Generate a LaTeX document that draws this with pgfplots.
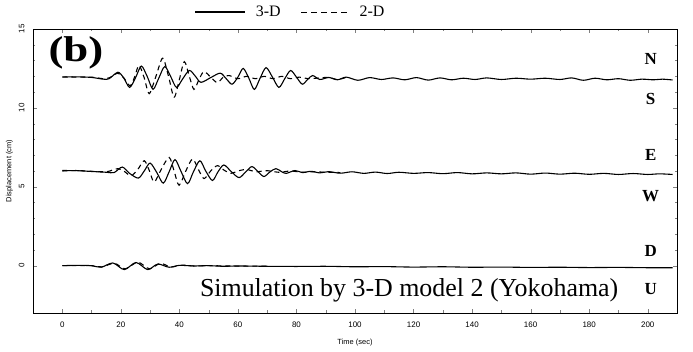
\documentclass[border=0pt]{standalone}
\usepackage{pgfplots}
\pgfplotsset{compat=1.18}
\usepackage{fontspec}
\setmainfont{Liberation Serif}
\newfontfamily\tickfont{Liberation Sans}
\begin{document}
\begin{tikzpicture}
\useasboundingbox (-33bp,-39bp) rectangle (660bp,313bp);
\begin{axis}[
  scale only axis, width=644bp, height=284bp,
  xmin=-10, xmax=210, ymin=-3, ymax=15,
  xtick={0,20,...,200}, ytick={0,5,10,15},
  minor x tick num=1, minor y tick num=4,
  tick align=inside, tick pos=both,
  major tick length=4bp, minor tick length=2.5bp,
  /pgf/number format/assume math mode=true,
  ticklabel style={font=\tickfont\fontsize{8}{9}\selectfont},
  yticklabel style={rotate=90, anchor=south},
  xticklabel shift=5bp, yticklabel shift=5bp,
  xlabel={Time (sec)}, ylabel={Displacement (cm)},
  label style={font=\tickfont\fontsize{7.5}{9}\selectfont},
  xlabel style={yshift=-5bp},
  ylabel style={yshift=-1bp},
  axis line style={line width=0.6pt},
  legend style={at={(0.4,1.06)}, anchor=center, draw=none, fill=none,
    legend columns=2, font=\fontsize{16}{18}\selectfont,
    /tikz/every odd column/.append style={column sep=8bp},
    /tikz/every even column/.append style={column sep=18bp}},
]
% N-S 3-D
\addplot[black, line width=1.1pt, smooth, tension=0.5, legend image code/.code={\draw[black, line width=1.1pt] (0bp,0bp) -- (50bp,0bp);}] coordinates {
(0,11.95) (5,11.97) (10,11.93) (14,11.82) (16,11.85) (19,12.26) (21,11.9) (23,11.3) (25,11.9) (27,12.65) (29,12.0) (31,11.18) (33,11.9) (35,12.62) (37,12.0) (39,11.3) (41,11.8) (43.4,12.37) (45.5,12.0) (47.4,11.62) (51,11.95) (54,12.2) (56,11.85) (58,11.5) (60,11.95) (61.8,12.5) (63.7,11.9) (65.6,11.17) (67.5,11.85) (69.6,12.55) (71.8,11.95) (74,11.3) (76,11.85) (78,12.37) (80,11.95) (82,11.5) (83.8,11.8) (85.5,12.05) (88,11.8) (91,11.93) (94,11.78) (97,11.95) (101,11.75) (105,11.92) (109,11.8) (113,11.9) (117,11.78) (121,11.92) (125,11.76) (129,11.9) (133,11.78) (137,11.88) (141,11.8) (145,11.9) (150,11.8) (155,11.88) (160,11.82) (165,11.88) (170,11.8) (174,11.9) (178,11.75) (182,11.88) (186,11.78) (190,11.85) (194,11.75) (198,11.82) (202,11.78) (205,11.82) (208.5,11.77)};
\addlegendentry{3-D}
% N-S 2-D
\addplot[black, line width=1.1pt, dash pattern=on 5bp off 4bp, smooth, tension=0.5, legend image code/.code={\draw[black, line width=0.9pt, dash pattern=on 6bp off 4bp] (0bp,0bp) -- (48bp,0bp);}] coordinates {
(0,11.97) (5,11.95) (10,11.95) (14,11.85) (16,11.9) (19,12.2) (21,11.9) (23.2,11.4) (24.8,12.0) (26.2,12.7) (28,11.9) (29.7,10.9) (32,12.0) (34.3,13.15) (36.3,12.0) (38.2,10.68) (40,11.8) (41.7,12.93) (43.4,12.0) (45,11.17) (46.7,11.8) (48.4,12.3) (50.7,11.95) (53,11.6) (55,11.95) (57,12.05) (60,11.85) (63,12.0) (66,11.85) (69,12.0) (72,11.85) (75,12.0) (78,11.85) (81,11.95) (84,11.85) (88,11.9) (91,11.93) (94,11.8) (97,11.93)};
\addlegendentry{2-D}
% E-W 3-D
\addplot[black, line width=1.1pt, smooth, tension=0.5, forget plot] coordinates {
(0,6.03) (5,6.02) (10,5.97) (15,5.92) (17.7,5.9) (20.5,6.25) (23,5.85) (26,5.55) (28,6.0) (30,6.5) (32.3,5.9) (34.5,5.23) (36.5,5.95) (38.5,6.72) (40.5,6.0) (42.8,5.2) (44.8,5.95) (47,6.65) (49,6.0) (51.3,5.4) (53.2,5.95) (55.2,6.38) (57.8,5.95) (60.4,5.58) (62.7,5.95) (64.8,6.28) (66.9,5.95) (68.9,5.65) (71,5.95) (73,6.15) (75,5.95) (76.5,5.85) (79.5,6.03) (82,5.9) (85,5.98) (88,5.88) (91,5.96) (95,5.86) (99,5.95) (103,5.85) (107,5.93) (111,5.84) (115,5.92) (120,5.85) (125,5.9) (130,5.83) (135,5.9) (140,5.82) (145,5.88) (150,5.82) (155,5.88) (160,5.8) (165,5.87) (170,5.8) (175,5.86) (180,5.79) (185,5.85) (190,5.78) (195,5.84) (200,5.78) (204,5.82) (208.5,5.78)};
% E-W 2-D
\addplot[black, line width=1.1pt, dash pattern=on 5bp off 4bp, smooth, tension=0.5, forget plot] coordinates {
(0,6.0) (5,6.03) (10,5.98) (15,5.95) (17,6.05) (19,6.15) (21,6.0) (23.5,5.7) (25.8,6.1) (28,6.65) (29.8,6.0) (31.4,5.3) (33.8,6.1) (36.5,6.86) (38.2,6.0) (39.9,5.1) (42.2,6.0) (44.5,6.76) (46.5,6.1) (48.4,5.52) (50.7,6.0) (53,6.34) (55.3,6.05) (57.6,5.85) (60,6.0) (63,6.1) (66,5.95) (70,6.02) (74,5.92) (78,6.0) (82,5.92) (86,5.95) (90,5.92) (95,5.9)};
% D-U 3-D
\addplot[black, line width=1.1pt, smooth, tension=0.5, forget plot] coordinates {
(0,0.0) (5,0.02) (10,0.0) (13.3,-0.1) (17.3,0.17) (21.2,-0.25) (25.2,0.2) (29.2,-0.25) (32.6,0.1) (36.5,-0.1) (40,0.02) (45,-0.02) (50,0.0) (55,-0.04) (60,-0.02) (70,-0.04) (80,-0.05) (90,-0.04) (100,-0.07) (110,-0.06) (120,-0.09) (130,-0.07) (140,-0.1) (150,-0.09) (160,-0.11) (170,-0.1) (180,-0.12) (190,-0.11) (200,-0.13) (208.5,-0.13)};
% D-U 2-D
\addplot[black, line width=1.1pt, dash pattern=on 5bp off 4bp, smooth, tension=0.5, forget plot] coordinates {
(0,0.0) (10,0.0) (13.5,-0.08) (17.8,0.15) (21.5,-0.2) (25.8,0.22) (29.8,-0.2) (33.5,0.15) (37,-0.08) (41,0.03) (45,-0.02) (50,0.0) (60,-0.03) (70,-0.03)};
% annotations
\node[anchor=west, xscale=1.25, transform shape, font=\fontsize{36}{38}\selectfont\bfseries] at (axis cs:-6.2,13.5) {(b)};
\node[font=\fontsize{17}{19}\selectfont\bfseries] at (axis cs:201,13.1) {N};
\node[font=\fontsize{17}{19}\selectfont\bfseries] at (axis cs:201,10.55) {S};
\node[font=\fontsize{17}{19}\selectfont\bfseries] at (axis cs:201,7.0) {E};
\node[font=\fontsize{17}{19}\selectfont\bfseries] at (axis cs:201,4.4) {W};
\node[font=\fontsize{17}{19}\selectfont\bfseries] at (axis cs:201,0.94) {D};
\node[font=\fontsize{17}{19}\selectfont\bfseries] at (axis cs:201,-1.5) {U};
\node[font=\fontsize{26}{28}\selectfont] at (axis cs:118.5,-1.55) {Simulation by 3-D model 2 (Yokohama)};
\end{axis}
\end{tikzpicture}
\end{document}
